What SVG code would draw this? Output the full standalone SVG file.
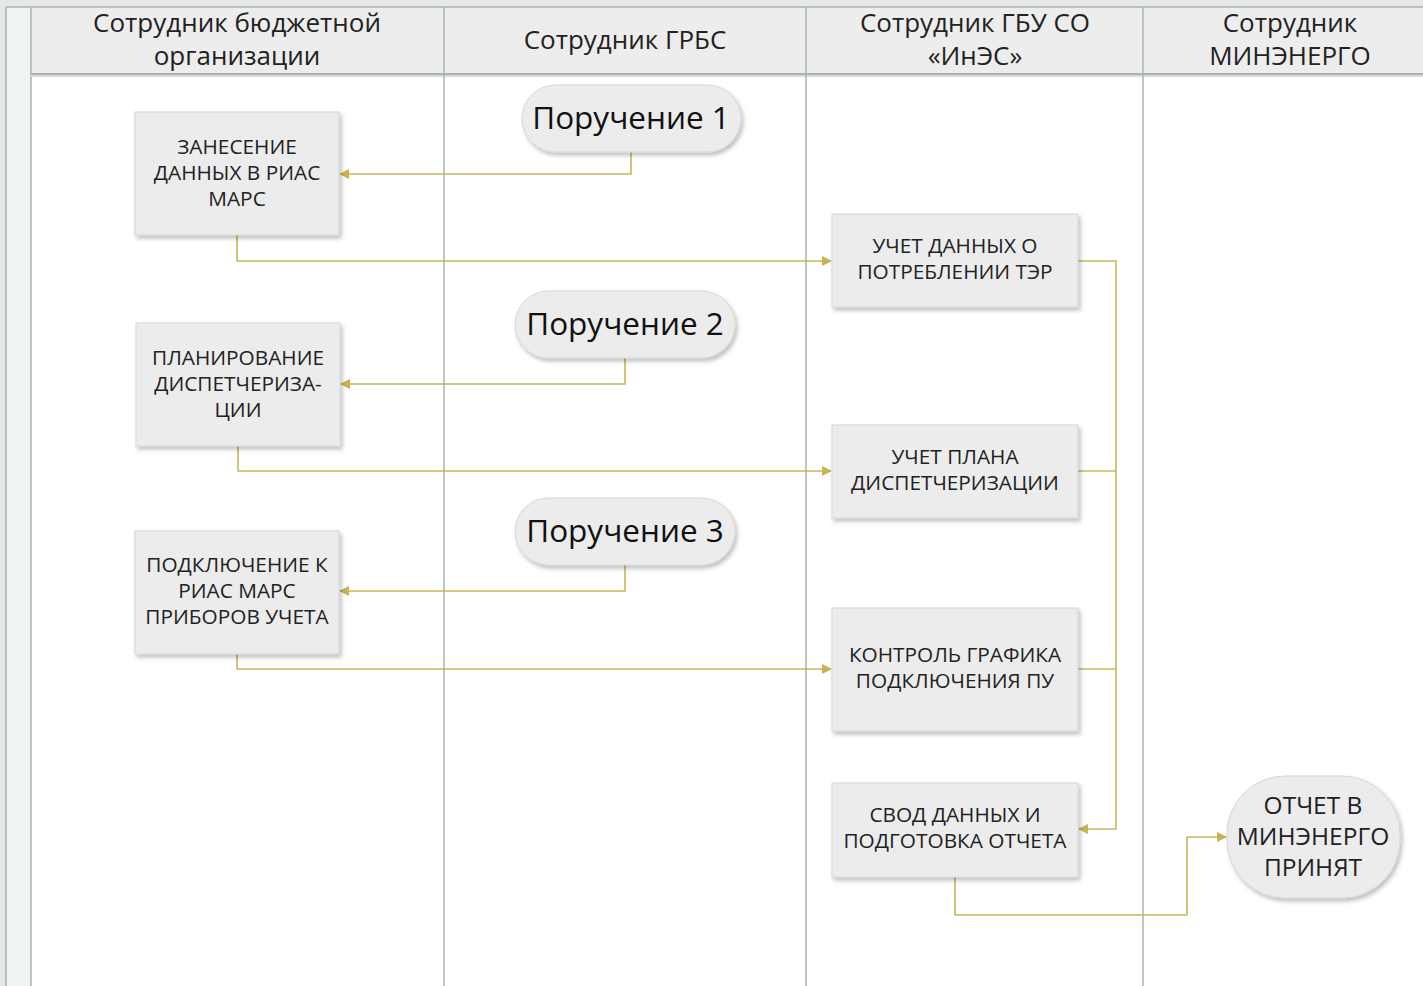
<svg xmlns="http://www.w3.org/2000/svg" width="1423" height="986" viewBox="0 0 1423 986">
<style>
.hdr{font-family:"Open Sans","Noto Sans","DejaVu Sans",sans-serif;font-size:26px;fill:#222;text-anchor:middle}
.box{fill:#ececec;stroke:#d6d6d6;stroke-width:1}
.lbl{font-family:"Open Sans","Noto Sans","DejaVu Sans",sans-serif;font-size:20.8px;fill:#222;text-anchor:middle}
.big{font-family:"Open Sans","Noto Sans","DejaVu Sans",sans-serif;font-size:31.5px;fill:#111;text-anchor:middle}
.lane{stroke:#a9b3b3;stroke-width:1.5;fill:none}
.con{stroke:#c8b75a;stroke-width:1.6;fill:none}
</style>
<defs>
<filter id="sh" x="-10%" y="-10%" width="130%" height="130%">
<feDropShadow dx="2" dy="3" stdDeviation="2" flood-color="#000" flood-opacity="0.25"/>
</filter>
<marker id="arr" viewBox="0 0 10 10" refX="9" refY="5" markerWidth="11" markerHeight="10" markerUnits="userSpaceOnUse" orient="auto">
<path d="M0,0 L10,5 L0,10 z" fill="#c8b44f"/>
</marker>
</defs>
<g id="pool">
<rect x="0" y="0" width="1423" height="986" fill="#ffffff"/>
<rect x="0" y="0" width="1423" height="7" fill="#e6e8e8"/>
<rect x="0" y="0" width="6" height="986" fill="#e6e8e8"/>
<rect x="6" y="7" width="25" height="979" fill="#f1f2f2"/>
<rect x="31" y="7" width="1392" height="67" fill="#ededed"/>
<line class="lane" x1="6" y1="7" x2="1423" y2="7"/>
<line class="lane" x1="6" y1="7" x2="6" y2="986"/>
<line class="lane" x1="31" y1="7" x2="31" y2="986"/>
<line x1="31" y1="74" x2="1423" y2="74" stroke="#a9b3b3" stroke-width="2"/>
<line x1="31" y1="76" x2="1423" y2="76" stroke="#d8dcdc" stroke-width="2"/>
<line class="lane" x1="444" y1="7" x2="444" y2="986"/>
<line class="lane" x1="806" y1="7" x2="806" y2="986"/>
<line class="lane" x1="1143" y1="7" x2="1143" y2="986"/>
<text class="hdr" x="237" y="32">Сотрудник бюджетной</text>
<text class="hdr" x="237" y="65">организации</text>
<text class="hdr" x="625" y="49">Сотрудник ГРБС</text>
<text class="hdr" x="975" y="32">Сотрудник ГБУ СО</text>
<text class="hdr" x="975" y="65">«ИнЭС»</text>
<text class="hdr" x="1290" y="32">Сотрудник</text>
<text class="hdr" x="1290" y="65">МИНЭНЕРГО</text>
</g>
<g id="connectors">
<path class="con" d="M631,152 V174 H340" marker-end="url(#arr)"/>
<path class="con" d="M237,235 V261 H831" marker-end="url(#arr)"/>
<path class="con" d="M625,358 V384 H341" marker-end="url(#arr)"/>
<path class="con" d="M238,446 V471 H831" marker-end="url(#arr)"/>
<path class="con" d="M625,565 V591 H340" marker-end="url(#arr)"/>
<path class="con" d="M237,654 V669 H831" marker-end="url(#arr)"/>
<path class="con" d="M1078,261 H1116 V829 H1079" marker-end="url(#arr)"/>
<path class="con" d="M1078,471 H1116"/>
<path class="con" d="M1078,669 H1116"/>
<path class="con" d="M955,877 V915 H1187 V837 H1226" marker-end="url(#arr)"/>
</g>
<g id="n1"><rect class="box" filter="url(#sh)" x="135" y="112" width="204" height="123"/>
<text class="lbl" x="237" y="154">ЗАНЕСЕНИЕ</text><text class="lbl" x="237" y="180">ДАННЫХ В РИАС</text><text class="lbl" x="237" y="206">МАРС</text></g>
<g id="p1"><rect class="box" filter="url(#sh)" x="522" y="85" width="219" height="67" rx="33.5"/>
<text class="big" x="631" y="129">Поручение 1</text></g>
<g id="n2"><rect class="box" filter="url(#sh)" x="832" y="214" width="246" height="93"/>
<text class="lbl" x="955" y="253">УЧЕТ ДАННЫХ О</text><text class="lbl" x="955" y="279">ПОТРЕБЛЕНИИ ТЭР</text></g>
<g id="p2"><rect class="box" filter="url(#sh)" x="515" y="291" width="220" height="67" rx="33.5"/>
<text class="big" x="625" y="335">Поручение 2</text></g>
<g id="n3"><rect class="box" filter="url(#sh)" x="136" y="323" width="204" height="123"/>
<text class="lbl" x="238" y="365">ПЛАНИРОВАНИЕ</text><text class="lbl" x="238" y="391">ДИСПЕТЧЕРИЗА-</text><text class="lbl" x="238" y="417">ЦИИ</text></g>
<g id="n4"><rect class="box" filter="url(#sh)" x="832" y="425" width="246" height="93"/>
<text class="lbl" x="955" y="464">УЧЕТ ПЛАНА</text><text class="lbl" x="955" y="490">ДИСПЕТЧЕРИЗАЦИИ</text></g>
<g id="p3"><rect class="box" filter="url(#sh)" x="515" y="498" width="220" height="67" rx="33.5"/>
<text class="big" x="625" y="542">Поручение 3</text></g>
<g id="n5"><rect class="box" filter="url(#sh)" x="135" y="531" width="204" height="123"/>
<text class="lbl" x="237" y="572">ПОДКЛЮЧЕНИЕ К</text><text class="lbl" x="237" y="598">РИАС МАРС</text><text class="lbl" x="237" y="624">ПРИБОРОВ УЧЕТА</text></g>
<g id="n6"><rect class="box" filter="url(#sh)" x="832" y="608" width="246" height="123"/>
<text class="lbl" x="955" y="662">КОНТРОЛЬ ГРАФИКА</text><text class="lbl" x="955" y="688">ПОДКЛЮЧЕНИЯ ПУ</text></g>
<g id="n7"><rect class="box" filter="url(#sh)" x="832" y="783" width="246" height="94"/>
<text class="lbl" x="955" y="822">СВОД ДАННЫХ И</text><text class="lbl" x="955" y="848">ПОДГОТОВКА ОТЧЕТА</text></g>
<g id="n8"><rect class="box" filter="url(#sh)" x="1227" y="776" width="173" height="122" rx="58"/>
<text class="lbl" style="font-size:24.5px" x="1313" y="814">ОТЧЕТ В</text><text class="lbl" style="font-size:24.5px" x="1313" y="845">МИНЭНЕРГО</text><text class="lbl" style="font-size:24.5px" x="1313" y="876">ПРИНЯТ</text></g>
</svg>
